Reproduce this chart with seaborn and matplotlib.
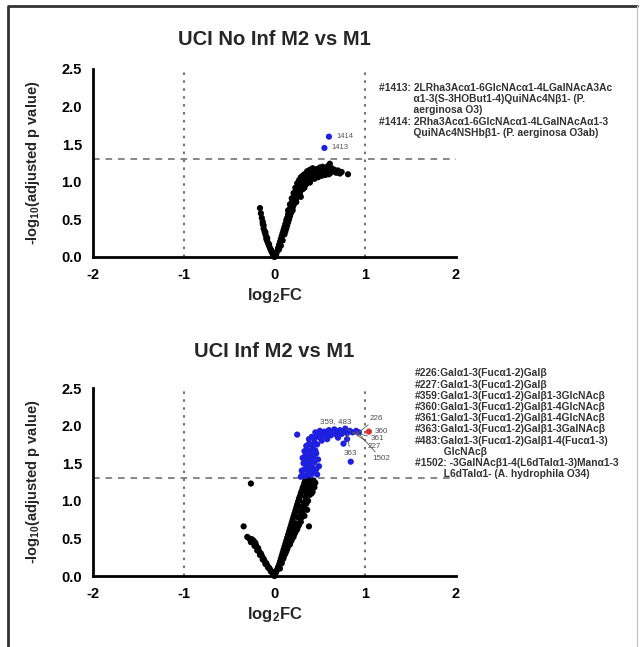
import matplotlib
matplotlib.use("Agg")
import matplotlib.pyplot as plt
import pandas as pd
import seaborn as sns
from matplotlib.lines import Line2D

sns.set_theme(style="white")
plt.rcParams["font.family"] = ["Liberation Sans", "DejaVu Sans"]
plt.rcParams["mathtext.fontset"] = "custom"
plt.rcParams["mathtext.bf"] = "Liberation Sans:bold"
plt.rcParams["mathtext.rm"] = "Liberation Sans:bold"
plt.rcParams["mathtext.default"] = "bf"

# ---------------- panel 1: UCI No Inf M2 vs M1 ----------------
noinf_ns_x = [-0.16, -0.15, -0.14, -0.13, -0.12, -0.12, -0.11, -0.10, -0.09, -0.09, -0.08, -0.07,
              -0.06, -0.05, -0.04, -0.03, -0.02, -0.01, -0.13, -0.10, -0.08, -0.06, -0.04, -0.02,
              0.00, 0.01, 0.00, -0.005, 0.02,
              0.03, 0.04, 0.05, 0.05, 0.06, 0.07, 0.07, 0.08, 0.09, 0.09, 0.10, 0.11, 0.11, 0.12,
              0.13, 0.13, 0.14, 0.15, 0.15, 0.16, 0.17, 0.17, 0.18, 0.19, 0.19, 0.20, 0.21, 0.21,
              0.22, 0.23, 0.23, 0.24, 0.25, 0.25, 0.26, 0.27, 0.27, 0.28, 0.29, 0.30, 0.30, 0.31,
              0.32, 0.33, 0.34, 0.35, 0.36, 0.37, 0.38, 0.39, 0.40, 0.41, 0.42, 0.43, 0.44, 0.45,
              0.46, 0.47, 0.48, 0.49, 0.50, 0.51, 0.52, 0.53, 0.54, 0.55, 0.56, 0.57, 0.58, 0.59,
              0.60, 0.61, 0.62, 0.63, 0.64, 0.66, 0.68, 0.70, 0.72, 0.74, 0.81,
              0.18, 0.20, 0.22, 0.24, 0.26, 0.28, 0.29, 0.31, 0.33, 0.35, 0.37, 0.15, 0.17, 0.19,
              0.21, 0.23, 0.25, 0.27, 0.29, 0.31, 0.33, 0.36, 0.39, 0.42,
              0.12, 0.14, 0.16, 0.20, 0.24, 0.28, 0.32, 0.36, 0.40, 0.44, 0.48, 0.52, 0.56, 0.60]
noinf_ns_y = [0.65, 0.58, 0.52, 0.47, 0.42, 0.38, 0.34, 0.30, 0.27, 0.24, 0.21, 0.18,
              0.15, 0.12, 0.10, 0.07, 0.05, 0.03, 0.44, 0.33, 0.25, 0.17, 0.09, 0.04,
              0.00, 0.02, 0.01, 0.01, 0.04,
              0.08, 0.12, 0.10, 0.16, 0.20, 0.15, 0.24, 0.28, 0.22, 0.32, 0.36, 0.30, 0.40, 0.44,
              0.38, 0.49, 0.52, 0.46, 0.57, 0.60, 0.54, 0.64, 0.68, 0.61, 0.72, 0.75, 0.69, 0.79,
              0.82, 0.76, 0.86, 0.89, 0.82, 0.92, 0.95, 0.88, 0.98, 0.93, 1.00, 0.96, 1.03, 0.90,
              1.05, 0.98, 1.07, 1.01, 1.09, 1.04, 1.11, 0.99, 1.08, 1.13, 1.05, 1.10, 1.15, 1.07,
              1.12, 1.17, 1.09, 1.14, 1.19, 1.10, 1.15, 1.20, 1.12, 1.17, 1.13, 1.19, 1.15, 1.21,
              1.16, 1.24, 1.12, 1.18, 1.14, 1.16, 1.12, 1.15, 1.11, 1.13, 1.10,
              0.58, 0.66, 0.72, 0.78, 0.84, 0.86, 0.80, 0.96, 0.92, 0.97, 1.00, 0.62, 0.70, 0.78,
              0.85, 0.92, 0.98, 1.02, 1.06, 1.08, 1.10, 1.14, 1.16, 1.18,
              0.34, 0.42, 0.50, 0.62, 0.73, 0.83, 0.94, 1.00, 1.03, 1.04, 1.06, 1.08, 1.09, 1.10]
noinf_sig_ids = ["1413", "1414"]
noinf_sig_x = [0.55, 0.60]
noinf_sig_y = [1.45, 1.60]

noinf_notes = ("#1413: 2LRha3Ac\u03b11-6GlcNAc\u03b11-4LGalNAcA3Ac\n"
               "            \u03b11-3(S-3HOBut1-4)QuiNAc4N\u03b21- (P.\n"
               "            aerginosa O3)\n"
               "#1414: 2Rha3Ac\u03b11-6GlcNAc\u03b11-4LGalNAcA\u03b11-3\n"
               "            QuiNAc4NSHb\u03b21- (P. aerginosa O3ab)")

# ---------------- panel 2: UCI Inf M2 vs M1 ----------------
inf_ns_x = [-0.30, -0.28, -0.25, -0.23, -0.21, -0.20, -0.18, -0.17, -0.15, -0.14, -0.12, -0.11,
            -0.09, -0.08, -0.06, -0.05, -0.03, -0.02, -0.01, -0.26, -0.22, -0.19, -0.16, -0.13,
            -0.10, -0.07, -0.04, -0.34, -0.26, 0.00,
            0.01, 0.02, 0.03, 0.04, 0.05, 0.06, 0.06, 0.07, 0.08, 0.08, 0.09, 0.10, 0.10, 0.11,
            0.12, 0.12, 0.13, 0.14, 0.14, 0.15, 0.16, 0.16, 0.17, 0.18, 0.18, 0.19, 0.20, 0.20,
            0.21, 0.22, 0.22, 0.23, 0.24, 0.24, 0.25, 0.26, 0.26, 0.27, 0.28, 0.28, 0.29, 0.30,
            0.30, 0.31, 0.32, 0.32, 0.33, 0.34, 0.34, 0.35, 0.36, 0.37, 0.38, 0.39, 0.40, 0.41,
            0.43, 0.45, 0.38, 0.36, 0.33, 0.29, 0.25, 0.21, 0.17, 0.13, 0.09, 0.05, 0.15, 0.19,
            0.23, 0.27, 0.31, 0.35, 0.39, 0.42,
            0.11, 0.14, 0.18, 0.22, 0.26, 0.30, 0.33, 0.37, 0.41, 0.44]
inf_ns_y = [0.52, 0.50, 0.49, 0.47, 0.44, 0.40, 0.37, 0.33, 0.30, 0.27, 0.23, 0.20,
            0.17, 0.14, 0.11, 0.09, 0.06, 0.04, 0.02, 0.45, 0.40, 0.34, 0.28, 0.22,
            0.16, 0.11, 0.06, 0.66, 1.23, 0.00,
            0.03, 0.06, 0.09, 0.12, 0.15, 0.10, 0.19, 0.23, 0.17, 0.27, 0.31, 0.24, 0.35, 0.39,
            0.30, 0.43, 0.47, 0.37, 0.51, 0.55, 0.44, 0.59, 0.63, 0.50, 0.67, 0.71, 0.57, 0.75,
            0.79, 0.64, 0.83, 0.87, 0.70, 0.91, 0.95, 0.78, 0.99, 1.03, 0.85, 1.06, 1.10, 0.92,
            1.13, 1.17, 0.98, 1.20, 1.24, 1.05, 1.27, 1.12, 1.22, 1.18, 1.28, 1.15, 1.26, 1.21,
            1.27, 1.24, 0.66, 0.88, 0.80, 0.72, 0.62, 0.52, 0.42, 0.33, 0.22, 0.12, 0.40, 0.48,
            0.58, 0.68, 0.86, 0.96, 1.08, 1.12,
            0.28, 0.36, 0.46, 0.56, 0.66, 0.78, 0.90, 1.00, 1.10, 1.18]
inf_sig_x = [0.29, 0.31, 0.34, 0.37, 0.40, 0.44, 0.47, 0.30, 0.33, 0.36, 0.39, 0.42, 0.46, 0.49,
             0.32, 0.35, 0.38, 0.41, 0.44, 0.48, 0.31, 0.34, 0.37, 0.40, 0.43, 0.46, 0.33, 0.36,
             0.39, 0.42, 0.45, 0.35, 0.38, 0.41, 0.44, 0.47, 0.38, 0.41, 0.44, 0.47, 0.50, 0.53,
             0.56, 0.59, 0.62, 0.65, 0.68, 0.71, 0.74, 0.77, 0.80, 0.83, 0.86, 0.90, 0.93, 0.45,
             0.50, 0.55, 0.60, 0.66, 0.72, 0.78, 0.25, 0.84, 0.76, 0.70, 0.80, 0.52, 0.58]
inf_sig_y = [1.32, 1.35, 1.33, 1.36, 1.34, 1.38, 1.35, 1.40, 1.42, 1.45, 1.41, 1.44, 1.42, 1.46,
             1.50, 1.52, 1.49, 1.53, 1.51, 1.55, 1.57, 1.60, 1.58, 1.62, 1.59, 1.63, 1.66, 1.68,
             1.65, 1.70, 1.67, 1.73, 1.76, 1.74, 1.78, 1.75, 1.82, 1.85, 1.83, 1.87, 1.84, 1.88,
             1.86, 1.89, 1.87, 1.90, 1.88, 1.91, 1.89, 1.92, 1.90, 1.93, 1.91, 1.93, 1.91, 1.91,
             1.93, 1.92, 1.94, 1.95, 1.94, 1.96, 1.88, 1.52, 1.76, 1.84, 1.82, 1.80, 1.82]
inf_up_x = [1.04]
inf_up_y = [1.92]

# labelled glycans: id, point position, label position
inf_lab_ids = ["359, 483", "226", "360", "361", "227", "363", "1502"]
inf_lab_px = [0.83, 0.93, 1.04, 0.86, 0.86, 0.80, 0.90]
inf_lab_py = [1.93, 1.91, 1.92, 1.91, 1.91, 1.90, 1.93]
inf_lab_tx = [0.50, 1.05, 1.10, 1.06, 1.03, 0.76, 1.08]
inf_lab_ty = [2.05, 2.10, 1.92, 1.83, 1.72, 1.63, 1.56]

inf_notes = ("#226:Gal\u03b11-3(Fuc\u03b11-2)Gal\u03b2\n"
             "#227:Gal\u03b11-3(Fuc\u03b11-2)Gal\u03b2\n"
             "#359:Gal\u03b11-3(Fuc\u03b11-2)Gal\u03b21-3GlcNAc\u03b2\n"
             "#360:Gal\u03b11-3(Fuc\u03b11-2)Gal\u03b21-4GlcNAc\u03b2\n"
             "#361:Gal\u03b11-3(Fuc\u03b11-2)Gal\u03b21-4GlcNAc\u03b2\n"
             "#363:Gal\u03b11-3(Fuc\u03b11-2)Gal\u03b21-3GalNAc\u03b2\n"
             "#483:Gal\u03b11-3(Fuc\u03b11-2)Gal\u03b21-4(Fuc\u03b11-3)\n"
             "          GlcNAc\u03b2\n"
             "#1502: -3GalNAc\u03b21-4(L6dTal\u03b11-3)Man\u03b11-3\n"
             "          L6dTal\u03b11- (A. hydrophila O34)")

x_ticks = [-2, -1, 0, 1, 2]
y_ticks = [0.0, 0.5, 1.0, 1.5, 2.0, 2.5]
p_cut = 1.3

palette = {"ns": "black", "sig": "#1f1fe0", "up": "#e8302a"}


def frame(groups):
    rows = []
    for name, xs, ys in groups:
        rows += [{"log2FC": a, "nlp": b, "group": name} for a, b in zip(xs, ys)]
    return pd.DataFrame(rows)


def style_axes(ax, title, title_pad):
    ax.set_xlim(-2, 2)
    ax.set_ylim(0, 2.5)
    ax.set_xticks(x_ticks)
    ax.set_xticklabels([str(t) for t in x_ticks])
    ax.set_yticks(y_ticks)
    ax.set_yticklabels([f"{t:.1f}" for t in y_ticks])
    for s in ("top", "right"):
        ax.spines[s].set_visible(False)
    for s in ("left", "bottom"):
        ax.spines[s].set_linewidth(2.0)
        ax.spines[s].set_color("black")
    ax.tick_params(axis="both", direction="out", length=6, width=2, colors="black",
                   labelsize=10.5, pad=2)
    for lab in ax.get_xticklabels() + ax.get_yticklabels():
        lab.set_fontweight("bold")
    ax.axhline(p_cut, color="0.45", lw=1.2, ls=(0, (4, 3.5)), zorder=1, clip_on=False)
    for v in (-1, 1):
        ax.axvline(v, color="0.45", lw=1.5, ls=(0, (1.2, 2.6)), zorder=1)
    ax.set_xlabel(r"log$_2$FC", fontsize=12, fontweight="bold", labelpad=3)
    ax.set_ylabel(r"-log$_{10}$(adjusted p value)", fontsize=10.5, fontweight="bold",
                  labelpad=14)
    ax.set_title(title, fontsize=14.5, fontweight="bold", pad=title_pad)
    ax.set_facecolor("white")


fig = plt.figure(figsize=(6.4, 6.47), dpi=100)
fig.patch.set_facecolor("white")

ax1 = fig.add_axes([0.1453, 0.6028, 0.5672, 0.2906])
ax2 = fig.add_axes([0.1453, 0.1097, 0.5672, 0.2906])

df1 = frame([("ns", noinf_ns_x, noinf_ns_y), ("sig", noinf_sig_x, noinf_sig_y)])
sns.scatterplot(data=df1, x="log2FC", y="nlp", hue="group", palette=palette, s=20,
                edgecolor="none", legend=False, ax=ax1, clip_on=False, zorder=3)
style_axes(ax1, "UCI No Inf M2 vs M1", 17)
for gid, gx, gy in zip(noinf_sig_ids, noinf_sig_x, noinf_sig_y):
    ax1.text(gx + 0.08, gy, gid, fontsize=5.5, color="0.35", va="center", ha="left")
ax1.text(1.15, 2.32, noinf_notes, fontsize=7.4, color="0.2", va="top", ha="left",
         linespacing=1.18, fontweight="bold")

df2 = frame([("ns", inf_ns_x, inf_ns_y), ("sig", inf_sig_x, inf_sig_y),
             ("up", inf_up_x, inf_up_y)])
sns.scatterplot(data=df2, x="log2FC", y="nlp", hue="group", palette=palette, s=20,
                edgecolor="none", legend=False, ax=ax2, clip_on=False, zorder=3)
style_axes(ax2, "UCI Inf M2 vs M1", 22)
for gid, px, py, tx, ty in zip(inf_lab_ids, inf_lab_px, inf_lab_py, inf_lab_tx, inf_lab_ty):
    ax2.annotate(gid, xy=(px, py), xytext=(tx, ty), fontsize=5.8, color="0.3",
                 va="center", ha="left",
                 arrowprops=dict(arrowstyle="-", color="0.35", lw=0.6,
                                 shrinkA=0, shrinkB=0))
ax2.text(1.55, 2.76, inf_notes, fontsize=7.4, color="0.2", va="top", ha="left",
         linespacing=1.15, fontweight="bold")

# outer frame of the figure: dark left and top edges, faint right edge
x_left, x_right, y_top = 7.5 / 640, 637 / 640, 1 - 5.5 / 647
fig.add_artist(Line2D([x_left, x_left, x_right], [-0.01, y_top, y_top],
                      transform=fig.transFigure, color="#333333", lw=2.0))
fig.add_artist(Line2D([x_right, x_right], [y_top, -0.01],
                      transform=fig.transFigure, color="#c8c8c8", lw=1.0))

fig.savefig("out.png", dpi=100, facecolor="white")
